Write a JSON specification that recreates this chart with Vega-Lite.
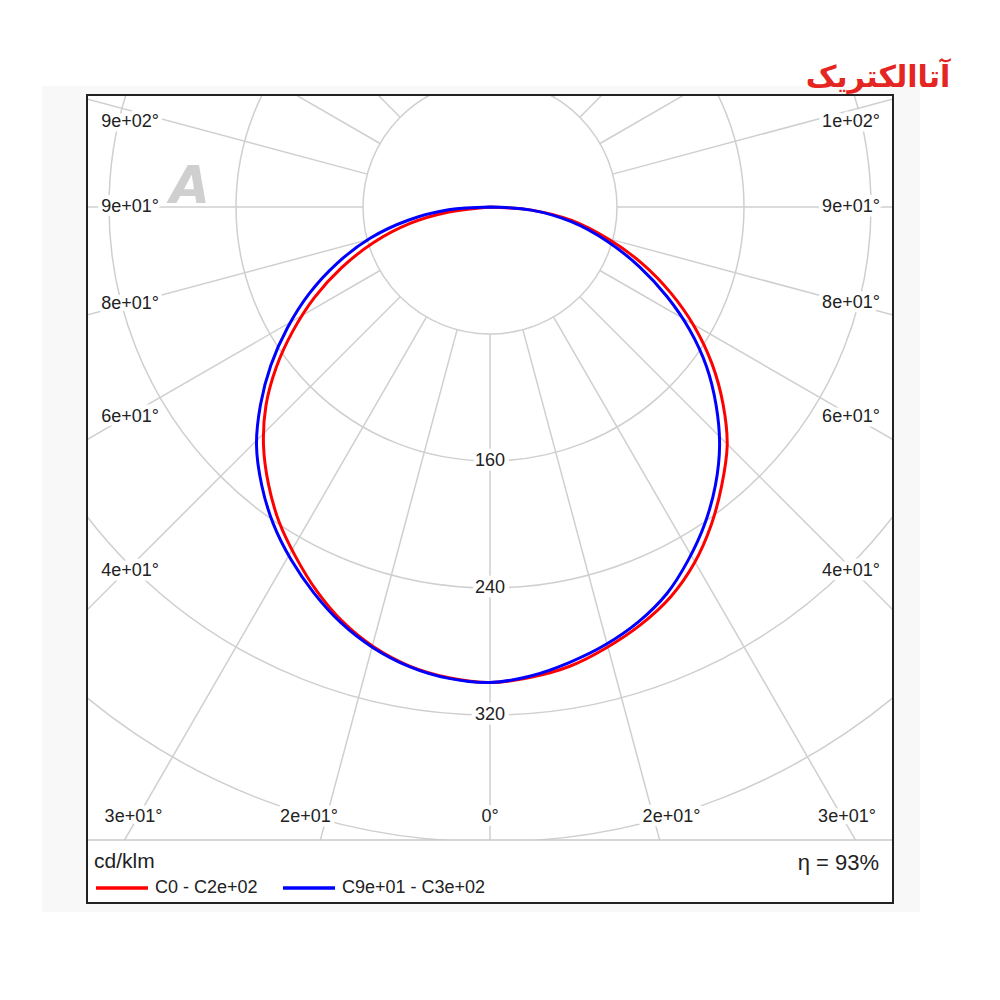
{
 "$schema": "https://vega.github.io/schema/vega-lite/v6.json",
 "width": 806,
 "height": 808,
 "autosize": {"type": "none"},
 "padding": {"left": 87, "top": 95, "right": 107, "bottom": 97},
 "background": "#ffffff",
 "config": {"view": {"stroke": null}, "font": "Liberation Sans"},
 "datasets": {
  "curves": [
   {"s":"C0 - C2e+02","i":0,"x":0,"y":0},
   {"s":"C0 - C2e+02","i":10,"x":26.09,"y":-1.97},
   {"s":"C0 - C2e+02","i":20,"x":51.49,"y":-8.45},
   {"s":"C0 - C2e+02","i":30,"x":74.8,"y":-20.36},
   {"s":"C0 - C2e+02","i":40,"x":95.88,"y":-35.65},
   {"s":"C0 - C2e+02","i":50,"x":113.98,"y":-54.28},
   {"s":"C0 - C2e+02","i":60,"x":128.86,"y":-75.53},
   {"s":"C0 - C2e+02","i":70,"x":139.93,"y":-98.99},
   {"s":"C0 - C2e+02","i":80,"x":146.78,"y":-124.04},
   {"s":"C0 - C2e+02","i":90,"x":149.42,"y":-149.92},
   {"s":"C0 - C2e+02","i":100,"x":145.91,"y":-175.65},
   {"s":"C0 - C2e+02","i":110,"x":139.22,"y":-200.59},
   {"s":"C0 - C2e+02","i":120,"x":128.74,"y":-224.25},
   {"s":"C0 - C2e+02","i":130,"x":113.88,"y":-245.48},
   {"s":"C0 - C2e+02","i":140,"x":94.95,"y":-263.08},
   {"s":"C0 - C2e+02","i":150,"x":73.64,"y":-277.47},
   {"s":"C0 - C2e+02","i":160,"x":50.67,"y":-289.15},
   {"s":"C0 - C2e+02","i":170,"x":25.79,"y":-296.2},
   {"s":"C0 - C2e+02","i":180,"x":0,"y":-299.53},
   {"s":"C0 - C2e+02","i":190,"x":-25.85,"y":-296.51},
   {"s":"C0 - C2e+02","i":200,"x":-50.67,"y":-289.15},
   {"s":"C0 - C2e+02","i":210,"x":-73.39,"y":-277.03},
   {"s":"C0 - C2e+02","i":220,"x":-93.13,"y":-260.91},
   {"s":"C0 - C2e+02","i":230,"x":-109.3,"y":-241.63},
   {"s":"C0 - C2e+02","i":240,"x":-122.31,"y":-220.54},
   {"s":"C0 - C2e+02","i":250,"x":-132.89,"y":-198.29},
   {"s":"C0 - C2e+02","i":260,"x":-139.58,"y":-174.53},
   {"s":"C0 - C2e+02","i":270,"x":-142.68,"y":-149.92},
   {"s":"C0 - C2e+02","i":280,"x":-141.13,"y":-125.04},
   {"s":"C0 - C2e+02","i":290,"x":-134.61,"y":-100.93},
   {"s":"C0 - C2e+02","i":300,"x":-124.22,"y":-78.21},
   {"s":"C0 - C2e+02","i":310,"x":-110.65,"y":-57.08},
   {"s":"C0 - C2e+02","i":320,"x":-93.61,"y":-38.36},
   {"s":"C0 - C2e+02","i":330,"x":-73.54,"y":-22.54},
   {"s":"C0 - C2e+02","i":340,"x":-50.74,"y":-10.52},
   {"s":"C0 - C2e+02","i":350,"x":-25.87,"y":-3.21},
   {"s":"C0 - C2e+02","i":360,"x":0,"y":0},
   {"s":"C9e+01 - C3e+02","i":0,"x":0,"y":0},
   {"s":"C9e+01 - C3e+02","i":10,"x":26.09,"y":-1.97},
   {"s":"C9e+01 - C3e+02","i":20,"x":51.19,"y":-9.28},
   {"s":"C9e+01 - C3e+02","i":30,"x":74.02,"y":-21.72},
   {"s":"C9e+01 - C3e+02","i":40,"x":94.18,"y":-37.68},
   {"s":"C9e+01 - C3e+02","i":50,"x":111.47,"y":-56.39},
   {"s":"C9e+01 - C3e+02","i":60,"x":125.75,"y":-77.32},
   {"s":"C9e+01 - C3e+02","i":70,"x":136.32,"y":-100.3},
   {"s":"C9e+01 - C3e+02","i":80,"x":142.43,"y":-124.81},
   {"s":"C9e+01 - C3e+02","i":90,"x":144.63,"y":-149.92},
   {"s":"C9e+01 - C3e+02","i":100,"x":142.06,"y":-174.97},
   {"s":"C9e+01 - C3e+02","i":110,"x":135.43,"y":-199.21},
   {"s":"C9e+01 - C3e+02","i":120,"x":125.03,"y":-222.11},
   {"s":"C9e+01 - C3e+02","i":130,"x":111.47,"y":-243.45},
   {"s":"C9e+01 - C3e+02","i":140,"x":93.49,"y":-261.34},
   {"s":"C9e+01 - C3e+02","i":150,"x":72.66,"y":-275.77},
   {"s":"C9e+01 - C3e+02","i":160,"x":49.88,"y":-286.95},
   {"s":"C9e+01 - C3e+02","i":170,"x":25.65,"y":-295.4},
   {"s":"C9e+01 - C3e+02","i":180,"x":0,"y":-299.53},
   {"s":"C9e+01 - C3e+02","i":190,"x":-25.93,"y":-296.95},
   {"s":"C9e+01 - C3e+02","i":200,"x":-50.8,"y":-289.5},
   {"s":"C9e+01 - C3e+02","i":210,"x":-73.7,"y":-277.58},
   {"s":"C9e+01 - C3e+02","i":220,"x":-93.94,"y":-261.87},
   {"s":"C9e+01 - C3e+02","i":230,"x":-110.99,"y":-243.05},
   {"s":"C9e+01 - C3e+02","i":240,"x":-125.25,"y":-222.24},
   {"s":"C9e+01 - C3e+02","i":250,"x":-136.5,"y":-199.6},
   {"s":"C9e+01 - C3e+02","i":260,"x":-143.8,"y":-175.27},
   {"s":"C9e+01 - C3e+02","i":270,"x":-147.09,"y":-149.92},
   {"s":"C9e+01 - C3e+02","i":280,"x":-144.54,"y":-124.44},
   {"s":"C9e+01 - C3e+02","i":290,"x":-138.04,"y":-99.68},
   {"s":"C9e+01 - C3e+02","i":300,"x":-127.65,"y":-76.22},
   {"s":"C9e+01 - C3e+02","i":310,"x":-113.78,"y":-54.44},
   {"s":"C9e+01 - C3e+02","i":320,"x":-96.16,"y":-35.32},
   {"s":"C9e+01 - C3e+02","i":330,"x":-75.28,"y":-19.54},
   {"s":"C9e+01 - C3e+02","i":340,"x":-51.53,"y":-8.33},
   {"s":"C9e+01 - C3e+02","i":350,"x":-26.12,"y":-1.78},
   {"s":"C9e+01 - C3e+02","i":360,"x":0,"y":0}
  ],
  "circles": [{"r":80},{"r":160},{"r":240},{"r":320},{"r":400}],
  "spokes": [
   {"x":0,"y":-80,"x2":0,"y2":-700},
   {"x":20.71,"y":-77.27,"x2":181.17,"y2":-676.15},
   {"x":40,"y":-69.28,"x2":350,"y2":-606.22},
   {"x":56.57,"y":-56.57,"x2":494.97,"y2":-494.97},
   {"x":69.28,"y":-40,"x2":606.22,"y2":-350},
   {"x":77.27,"y":-20.71,"x2":676.15,"y2":-181.17},
   {"x":80,"y":0,"x2":700,"y2":0},
   {"x":77.27,"y":20.71,"x2":676.15,"y2":181.17},
   {"x":69.28,"y":40,"x2":606.22,"y2":350},
   {"x":56.57,"y":56.57,"x2":494.97,"y2":494.97},
   {"x":40,"y":69.28,"x2":350,"y2":606.22},
   {"x":20.71,"y":77.27,"x2":181.17,"y2":676.15},
   {"x":0,"y":80,"x2":0,"y2":700},
   {"x":-20.71,"y":-77.27,"x2":-181.17,"y2":-676.15},
   {"x":-40,"y":-69.28,"x2":-350,"y2":-606.22},
   {"x":-56.57,"y":-56.57,"x2":-494.97,"y2":-494.97},
   {"x":-69.28,"y":-40,"x2":-606.22,"y2":-350},
   {"x":-77.27,"y":-20.71,"x2":-676.15,"y2":-181.17},
   {"x":-80,"y":0,"x2":-700,"y2":0},
   {"x":-77.27,"y":20.71,"x2":-676.15,"y2":181.17},
   {"x":-69.28,"y":40,"x2":-606.22,"y2":350},
   {"x":-56.57,"y":56.57,"x2":-494.97,"y2":494.97},
   {"x":-40,"y":69.28,"x2":-350,"y2":606.22},
   {"x":-20.71,"y":77.27,"x2":-181.17,"y2":676.15}
  ],
  "labels": [
   {"t":"9e+02°","x":-226.77,"y":53.54},
   {"t":"9e+01°","x":-226.77,"y":0},
   {"t":"8e+01°","x":-226.77,"y":-61.1},
   {"t":"6e+01°","x":-226.77,"y":-132.28},
   {"t":"4e+01°","x":-226.77,"y":-229.29},
   {"t":"3e+01°","x":-224.57,"y":-384.25},
   {"t":"2e+01°","x":-114.02,"y":-384.25},
   {"t":"0°","x":0,"y":-384.25},
   {"t":"2e+01°","x":114.33,"y":-384.25},
   {"t":"3e+01°","x":224.88,"y":-384.25},
   {"t":"1e+02°","x":227.4,"y":53.54},
   {"t":"9e+01°","x":227.4,"y":0},
   {"t":"8e+01°","x":227.4,"y":-60.47},
   {"t":"6e+01°","x":227.4,"y":-132.28},
   {"t":"4e+01°","x":227.4,"y":-229.29},
   {"t":"160","x":0,"y":-160},
   {"t":"240","x":0,"y":-240},
   {"t":"320","x":0,"y":-320}
  ]
 },
 "layer": [
  {
   "data": {"values": [{"x":-282.2,"x2":270.9,"y":76.2,"y2":-444.1}]},
   "mark": {"type":"rect","fill":"#f8f8f8","clip":false},
   "encoding": {
    "x": {"field":"x","type":"quantitative","scale":{"domain":[-253.86,253.86],"nice":false,"zero":false},"axis":null},
    "x2": {"field":"x2"},
    "y": {"field":"y","type":"quantitative","scale":{"domain":[-438.43,70.55],"nice":false,"zero":false},"axis":null},
    "y2": {"field":"y2"}
   }
  },
  {
   "data": {"values": [{"x":-253.86,"x2":253.86,"y":70.55,"y2":-438.43}]},
   "mark": {"type":"rect","fill":"#ffffff","clip":false},
   "encoding": {
    "x": {"field":"x","type":"quantitative"},
    "x2": {"field":"x2"},
    "y": {"field":"y","type":"quantitative"},
    "y2": {"field":"y2"}
   }
  },
  {
   "data": {"name": "circles"},
   "mark": {"type":"arc","filled":false,"fill":null,"stroke":"#cfcfcf","strokeWidth":1.5,"theta":0,"theta2":6.2832,"clip":true},
   "encoding": {
    "x": {"datum":0,"type":"quantitative"},
    "y": {"datum":0,"type":"quantitative"},
    "radius": {"field":"r","type":"quantitative","stack":null,"scale":{"type":"linear","domain":[0,400],"range":[0,635],"zero":true}}
   }
  },
  {
   "data": {"name": "spokes"},
   "mark": {"type":"rule","stroke":"#cfcfcf","strokeWidth":1.5,"clip":true},
   "encoding": {
    "x": {"field":"x","type":"quantitative"},
    "y": {"field":"y","type":"quantitative"},
    "x2": {"field":"x2"},
    "y2": {"field":"y2"}
   }
  },
  {
   "data": {"values": [{"t":"A","x":-188.98,"y":12.6}]},
   "mark": {"type":"text","font":"DejaVu Sans","fontSize":52,"fontWeight":"bold","fontStyle":"italic","fill":"#c4c4c4","opacity":0.8,"baseline":"middle","align":"center"},
   "encoding": {
    "x": {"field":"x","type":"quantitative"},
    "y": {"field":"y","type":"quantitative"},
    "text": {"field":"t"}
   }
  },
  {
   "data": {"name": "labels"},
   "mark": {"type":"text","font":"Liberation Sans","fontSize":18,"fill":"#ffffff","stroke":"#ffffff","strokeWidth":9,"strokeJoin":"round","baseline":"middle","align":"center","clip":true},
   "encoding": {
    "x": {"field":"x","type":"quantitative"},
    "y": {"field":"y","type":"quantitative"},
    "text": {"field":"t"}
   }
  },
  {
   "data": {"name": "labels"},
   "mark": {"type":"text","font":"Liberation Sans","fontSize":18,"fill":"#222222","baseline":"middle","align":"center","clip":true},
   "encoding": {
    "x": {"field":"x","type":"quantitative"},
    "y": {"field":"y","type":"quantitative"},
    "text": {"field":"t"}
   }
  },
  {
   "data": {"name": "curves"},
   "mark": {"type":"line","strokeWidth":3,"interpolate":"catmull-rom","clip":true},
   "encoding": {
    "x": {"field":"x","type":"quantitative"},
    "y": {"field":"y","type":"quantitative"},
    "order": {"field":"i","type":"quantitative"},
    "color": {
     "field":"s","type":"nominal",
     "scale":{"domain":["C0 - C2e+02","C9e+01 - C3e+02"],"range":["#ff0000","#0000ff"]},
     "legend":{
      "title":"cd/klm","orient":"none","legendX":7,"legendY":756,"direction":"horizontal",
      "titleFont":"Liberation Sans","titleFontSize":21,"titleFontWeight":"normal","titleColor":"#222222","titlePadding":-12,
      "labelFont":"Liberation Sans","labelFontSize":18,"labelColor":"#222222","labelOffset":5,
      "symbolType":"stroke","symbolSize":2704,"symbolStrokeWidth":3.5,"columnPadding":18
     }
    }
   }
  },
  {
   "data": {"values": [{"x":-253.86,"x2":253.86,"y":-398.74,"y2":-438.43}]},
   "mark": {"type":"rect","fill":"#ffffff","clip":false},
   "encoding": {
    "x": {"field":"x","type":"quantitative"},
    "x2": {"field":"x2"},
    "y": {"field":"y","type":"quantitative"},
    "y2": {"field":"y2"}
   }
  },
  {
   "data": {"values": [{"x":-253.86,"x2":253.86,"y":-398.74}]},
   "mark": {"type":"rule","stroke":"#c8c8c8","strokeWidth":1.5},
   "encoding": {
    "x": {"field":"x","type":"quantitative"},
    "x2": {"field":"x2"},
    "y": {"field":"y","type":"quantitative"}
   }
  },
  {
   "data": {"values": [{"t":"η = 93%","x":245.04,"y":-413.23}]},
   "mark": {"type":"text","font":"Liberation Sans","fontSize":22,"fill":"#222222","baseline":"middle","align":"right"},
   "encoding": {
    "x": {"field":"x","type":"quantitative"},
    "y": {"field":"y","type":"quantitative"},
    "text": {"field":"t"}
   }
  },
  {
   "data": {"values": [{"x":-253.86,"x2":253.86,"y":70.55,"y2":-438.43}]},
   "mark": {"type":"rect","filled":false,"fill":null,"stroke":"#222222","strokeWidth":2,"clip":false},
   "encoding": {
    "x": {"field":"x","type":"quantitative"},
    "x2": {"field":"x2"},
    "y": {"field":"y","type":"quantitative"},
    "y2": {"field":"y2"}
   }
  },
  {
   "data": {"values": [{"t":"آتاالکتریک","x":244.4,"y":81.26}]},
   "mark": {"type":"text","font":"DejaVu Sans","fontSize":30,"fontWeight":"bold","fill":"#e52521","baseline":"middle","align":"center","clip":false},
   "encoding": {
    "x": {"field":"x","type":"quantitative"},
    "y": {"field":"y","type":"quantitative"},
    "text": {"field":"t"}
   }
  }
 ]
}
